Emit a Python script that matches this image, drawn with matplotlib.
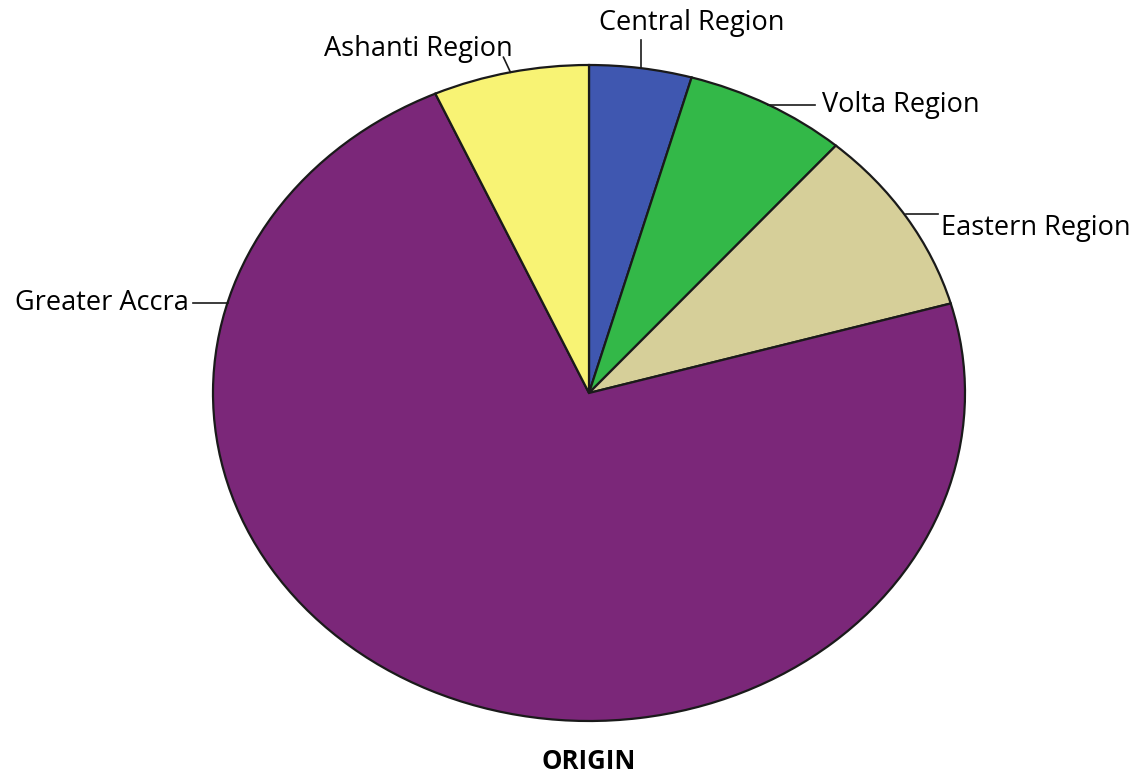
import numpy as np
import matplotlib
matplotlib.use("Agg")
import matplotlib.pyplot as plt

plt.rcParams['font.family'] = ['Open Sans', 'DejaVu Sans']

# slice order: clockwise from 12 o'clock
regions = ['Central Region', 'Volta Region', 'Eastern Region', 'Greater Accra', 'Ashanti Region']
shares = [4.4, 7.0, 9.2, 72.7, 6.7]
colors = ['#3f57b0', '#33b848', '#d6cf99', '#7b2779', '#f8f374']
title = 'ORIGIN'

W, H = 1143, 773
cx, cy = 589, 393      # pie centre in pixels
rx, ry = 376, 328      # ellipse radii in pixels

fig = plt.figure(figsize=(W / 100, H / 100), dpi=100)
ax = fig.add_axes([0, 0, 1, 1])
ax.pie(shares, colors=colors, startangle=90, counterclock=False,
       wedgeprops=dict(edgecolor='#1a1a1a', linewidth=1.6))
ax.set_aspect('auto')
ax.set_xlim(-cx / rx, (W - cx) / rx)
ax.set_ylim(-(H - cy) / ry, cy / ry)
ax.axis('off')


def px(dx, dy):
    # pixel offset -> data offset (dy positive = up)
    return dx / rx, dy / ry


# mid angle of each slice (math angles, degrees)
cum = np.cumsum([0] + shares)
mids = 90 - 360 * (cum[:-1] + cum[1:]) / 2 / sum(shares)
mids[3] = 164  # Greater Accra label sits on the left side

fs = 19.5
lc = '#1a1a1a'
for name, ang in zip(regions, mids):
    x0, y0 = np.cos(np.radians(ang)), np.sin(np.radians(ang))
    if name == 'Central Region':
        ddx, ddy = px(0, 28)
        ax.plot([x0, x0], [y0, y0 + ddy], color=lc, lw=1.2)
        tx, ty = px(51, 45)
        ax.text(x0 + tx, y0 + ty, name, ha='center', va='center', fontsize=fs)
    elif name == 'Volta Region':
        ddx, _ = px(47, 0)
        ax.plot([x0, x0 + ddx], [y0, y0], color=lc, lw=1.2)
        tx, _ = px(54, 0)
        ax.text(x0 + tx, y0, name, ha='left', va='center', fontsize=fs)
    elif name == 'Eastern Region':
        ddx, ddy = px(32, 3)
        ax.plot([x0, x0 + ddx], [y0 + ddy, y0 + ddy], color=lc, lw=1.2)
        tx, ty = px(35, -11)
        ax.text(x0 + tx, y0 + ty, name, ha='left', va='center', fontsize=fs)
    elif name == 'Greater Accra':
        ddx, _ = px(-35, 0)
        ax.plot([x0, x0 + ddx], [y0, y0], color=lc, lw=1.2)
        tx, _ = px(-39, 0)
        ax.text(x0 + tx, y0, name, ha='right', va='center', fontsize=fs)
    else:
        ddx, ddy = px(-7, 15)
        ax.plot([x0, x0 + ddx], [y0, y0 + ddy], color=lc, lw=1.2)
        tx, ty = px(-92, 23)
        ax.text(x0 + tx, y0 + ty, name, ha='center', va='center', fontsize=fs)

ax.text(0, -(761 - cy) / ry, title, ha='center', va='center',
        fontsize=18.5, fontweight='bold')

fig.savefig('out.png', dpi=100)
